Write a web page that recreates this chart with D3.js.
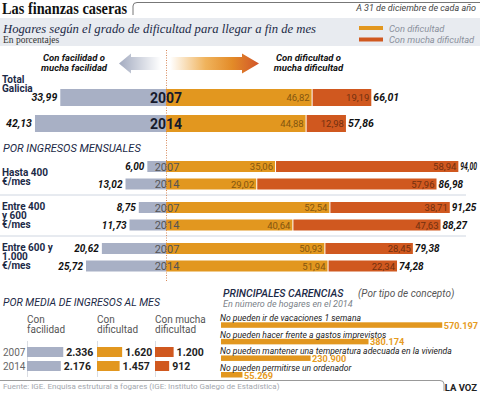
<!DOCTYPE html>
<html><head><meta charset="utf-8">
<script src="https://cdn.jsdelivr.net/npm/d3@7"></script>
<style>html,body{margin:0;padding:0;background:#fff;} svg{display:block;}</style>
</head><body>
<svg id="c" width="480" height="394"></svg>
<script>
// ---------- DATA ----------
const groups = ["Total Galicia", "Hasta 400 €/mes", "Entre 400 y 600 €/mes", "Entre 600 y 1.000 €/mes"];
const groupLines = [["Total", "Galicia"], ["Hasta 400", "€/mes"], ["Entre 400", "y 600", "€/mes"], ["Entre 600 y", "1.000", "€/mes"]];
const years = ["2007", "2014"];
const facilidad = [[33.99, 42.13], [6.00, 13.02], [8.75, 11.73], [20.62, 25.72]];
const dificultad = [[46.82, 44.88], [35.06, 29.02], [52.54, 40.64], [50.93, 51.94]];
const muchaDificultad = [[19.19, 12.98], [58.94, 57.96], [38.71, 47.63], [28.45, 22.34]];
const totalDificultad = [[66.01, 57.86], [94.00, 86.98], [91.25, 88.27], [79.38, 74.28]];

const mediaCats = [["Con", "facilidad"], ["Con", "dificultad"], ["Con mucha", "dificultad"]];
const media2007 = [2336, 1620, 1200];
const media2014 = [2176, 1457, 912];

const carencias = ["No pueden ir de vacaciones 1 semana", "No pueden hacer frente a gastos imprevistos",
  "No pueden mantener una temperatura adecuada en la vivienda", "No pueden permitirse un ordenador"];
const carenciasVal = [570197, 380174, 230900, 55269];

const legendLabels = ["Con dificultad", "Con mucha dificultad"];

// ---------- STYLE ----------
const C = { gray: "#a8b0c5", orange: "#e2971f", dark: "#d0581f", navy: "#1c2a47" };
const SANS = "Roboto, 'Open Sans', sans-serif";
const SERIF = "'Liberation Serif', 'DejaVu Serif', serif";

const loc = d3.formatLocale({ decimal: ",", thousands: ".", grouping: [3], currency: ["", "€"] });
const f2 = loc.format(",.2f"), fInt = loc.format(",d");

const svg = d3.select("#c");
const W = 480;

function txt(g, x, y, s, o = {}) {
  const t = g.append("text").attr("x", x).attr("y", y).text(s)
    .attr("font-family", o.family || SANS).attr("font-size", o.size || 10)
    .attr("fill", o.fill || "#111");
  if (o.weight) t.attr("font-weight", o.weight);
  if (o.italic) t.attr("font-style", "italic");
  if (o.anchor) t.attr("text-anchor", o.anchor);
  if (o.len) t.attr("textLength", o.len).attr("lengthAdjust", "spacingAndGlyphs");
  return t;
}

// ---------- HEADER ----------
txt(svg, 2, 13.5, "Las finanzas caseras", { family: SERIF, size: 16, weight: "bold", fill: "#111", len: 125 });
svg.append("path").attr("d", "M133,15 V6 Q133,2.5 137,2.5 H480").attr("fill", "none").attr("stroke", "#777").attr("stroke-width", 1);
txt(svg, 476, 10.5, "A 31 de diciembre de cada año", { size: 9, italic: true, fill: "#444", anchor: "end" });

svg.append("rect").attr("x", 0).attr("y", 18).attr("width", W).attr("height", 28).attr("fill", "#e8ebf0");
txt(svg, 3, 32.5, "Hogares según el grado de dificultad para llegar a fin de mes", { family: SERIF, size: 13.5, italic: true, fill: C.navy, len: 313 });
txt(svg, 3, 42.5, "En porcentajes", { family: SERIF, size: 9.5, fill: "#333" });

const legY = d3.scaleLinear().domain([0, 1]).range([26, 37.5]);
[C.orange, C.dark].forEach((col, i) => {
  svg.append("rect").attr("x", 359).attr("y", legY(i)).attr("width", 24).attr("height", 4).attr("fill", col);
  txt(svg, 389, legY(i) + 5.5, legendLabels[i], { size: 9.3, italic: true, fill: "#8a909c" });
});

// ---------- ARROWS ----------
const defs = svg.append("defs");
const gg = defs.append("linearGradient").attr("id", "gGray").attr("x1", "0").attr("x2", "1");
gg.append("stop").attr("offset", "0").attr("stop-color", "#a3abc0");
gg.append("stop").attr("offset", "1").attr("stop-color", "#ffffff");
const go = defs.append("linearGradient").attr("id", "gOr").attr("x1", "0").attr("x2", "1");
go.append("stop").attr("offset", "0").attr("stop-color", "#ffffff");
go.append("stop").attr("offset", "0.4").attr("stop-color", "#f0b35c");
go.append("stop").attr("offset", "0.7").attr("stop-color", "#e38b28");
go.append("stop").attr("offset", "1").attr("stop-color", "#d1552a");
svg.append("path").attr("d", "M119,63.5 L131,53.5 L131,57 L161,57 L161,70 L131,70 L131,73.5 Z").attr("fill", "url(#gGray)");
svg.append("path").attr("d", "M170,57 L242,57 L242,53.5 L259,63.5 L242,73.5 L242,70 L170,70 Z").attr("fill", "url(#gOr)");
txt(svg, 74, 61, "Con facilidad o", { size: 9.5, weight: "bold", italic: true, anchor: "middle" });
txt(svg, 74, 70.5, "mucha facilidad", { size: 9.5, weight: "bold", italic: true, anchor: "middle" });
txt(svg, 308.5, 61, "Con dificultad o", { size: 9.5, weight: "bold", italic: true, anchor: "middle" });
txt(svg, 308.5, 70.5, "mucha dificultad", { size: 9.5, weight: "bold", italic: true, anchor: "middle" });

// ---------- MAIN DIVERGING BARS ----------
const cx = 166;
const x = d3.scaleLinear().domain([0, 100]).range([0, 311]);
const groupTop = d3.scaleLinear().domain([1, 3]).range([161, 243]);

function rowGeom(gi, yi) {
  if (gi === 0) return { top: yi === 0 ? 89 : 115, h: 17 };
  return { top: groupTop(gi) + yi * 17.5, h: 11 };
}

const main = svg.append("g");
[2, 3].forEach(gi => {
  main.append("line").attr("x1", 0).attr("x2", 466).attr("y1", groupTop(gi) - 7).attr("y2", groupTop(gi) - 7)
    .attr("stroke", "#cfd6e1").attr("stroke-width", 1);
});
txt(main, 3, 152, "POR INGRESOS MENSUALES", { size: 11, italic: true, fill: C.navy });

groups.forEach((gName, gi) => {
  const lines = groupLines[gi];
  const first = gi === 0 ? 83 : groupTop(gi) + 7.5 + (3 - lines.length) * 7.5;
  lines.forEach((l, li) => txt(main, 2, first + li * 9.3, l, { size: 10, weight: "bold", fill: C.navy }));

  years.forEach((yr, yi) => {
    const { top, h } = rowGeom(gi, yi);
    const f = facilidad[gi][yi], d = dificultad[gi][yi], m = muchaDificultad[gi][yi], t = totalDificultad[gi][yi];
    const mid = top + h / 2;
    main.append("rect").attr("x", cx - x(f)).attr("y", top).attr("width", x(f)).attr("height", h).attr("fill", C.gray);
    main.append("rect").attr("x", cx).attr("y", top).attr("width", x(d)).attr("height", h).attr("fill", C.orange);
    main.append("rect").attr("x", cx + x(d) + 1).attr("y", top).attr("width", x(m) - 1).attr("height", h).attr("fill", C.dark);

    const vs = gi === 0 ? 10.5 : 10;
    txt(main, cx - x(f) - 3, mid + 3.6, f2(f), { size: vs, weight: "bold", italic: true, anchor: "end" });
    if (gi === 0) {
      txt(main, cx, mid + 5, yr, { size: 14, weight: "bold", fill: "#161a2c", anchor: "middle" });
    } else {
      txt(main, cx + 1, mid + 4, yr, { size: 11, fill: "#555", anchor: "middle" });
    }
    txt(main, cx + x(d) - 2, mid + 3.5, f2(d), { size: 9.5, fill: "#84560f", anchor: "end" });
    txt(main, cx + x(d + m) - 2, mid + 3.5, f2(m), { size: 9.5, fill: "#73300f", anchor: "end" });
    const tl = txt(main, cx + x(t) + 2, mid + 3.6, f2(t), { size: vs, weight: "bold", italic: true });
    // the reference crops the widest total at the right edge: keep it inside the frame
    const bb = tl.node().getComputedTextLength();
    if (cx + x(t) + 2 + bb > W - 2) tl.attr("textLength", W - (cx + x(t) + 2) - 3).attr("lengthAdjust", "spacingAndGlyphs");
  });
});

main.append("line").attr("x1", cx + 0.5).attr("x2", cx + 0.5).attr("y1", 50).attr("y2", 281)
  .attr("stroke", "#d9895a").attr("stroke-width", 1).attr("stroke-dasharray", "1,1.5");

// ---------- MEDIA DE INGRESOS ----------
const bl = svg.append("g");
txt(bl, 3, 305.5, "POR MEDIA DE INGRESOS AL MES", { size: 10.5, italic: true, fill: C.navy });
const colX = d3.scaleOrdinal().domain([0, 1, 2]).range([27, 97, 155]);
const mx = d3.scaleLinear().domain([0, 2500]).range([0, 38.8]);
const mRows = [media2007, media2014];
const mTop = d3.scaleLinear().domain([0, 1]).range([347, 361]);
const mCol = [C.gray, C.orange, C.dark];
mediaCats.forEach((lines, ci) => {
  lines.forEach((l, li) => txt(bl, colX(ci), 322.5 + li * 10, l, { size: 10, fill: "#555" }));
  bl.append("line").attr("x1", colX(ci) + 0.5).attr("x2", colX(ci) + 0.5).attr("y1", 341).attr("y2", 377)
    .attr("stroke", "#dadde3").attr("stroke-width", 1);
});
mRows.forEach((vals, ri) => {
  txt(bl, 3, mTop(ri) + 8.5, years[ri], { size: 10, fill: "#666" });
  vals.forEach((v, ci) => {
    bl.append("rect").attr("x", colX(ci)).attr("y", mTop(ri)).attr("width", mx(v)).attr("height", 10).attr("fill", mCol[ci]);
    txt(bl, colX(ci) + mx(v) + 3, mTop(ri) + 9, fInt(v), { size: 10.5, weight: "bold", fill: "#222" });
  });
});

// ---------- CARENCIAS ----------
const br = svg.append("g");
txt(br, 223, 297, "PRINCIPALES CARENCIAS", { size: 10.5, italic: true, fill: C.navy, weight: 500 });
txt(br, 358, 297, "(Por tipo de concepto)", { size: 10, italic: true, fill: "#555" });
txt(br, 223, 306.5, "En número de hogares en el 2014", { size: 9, italic: true, fill: "#7a7f88" });
const cs = d3.scaleLinear().domain([0, 600000]).range([0, 232.8]);
const cTop = d3.scaleLinear().domain([0, 3]).range([322.3, 372]);
carencias.forEach((lab, i) => {
  const top = cTop(i);
  br.append("rect").attr("x", 221).attr("y", top).attr("width", cs(carenciasVal[i])).attr("height", 5.5).attr("fill", C.orange);
  txt(br, 220, top - 1.2, lab, { size: 8.6, italic: true, fill: "#222" });
  txt(br, 221 + cs(carenciasVal[i]) + 1.5, top + 6.5, fInt(carenciasVal[i]), { size: 9.2, weight: "bold", fill: "#e69b1e" });
});

// ---------- FOOTER ----------
svg.append("path").attr("d", "M0,380.5 H440 Q444,380.5 444,384 V391").attr("fill", "none").attr("stroke", "#999").attr("stroke-width", 1);
txt(svg, 3, 388.5, "Fuente: IGE. Enquisa estrutural a fogares (IGE: Instituto Galego de Estadística)", { size: 8, fill: "#a3a7ae" });
txt(svg, 477, 391, "LA VOZ", { size: 9.5, weight: "bold", fill: "#222", anchor: "end" });
</script>
</body></html>
